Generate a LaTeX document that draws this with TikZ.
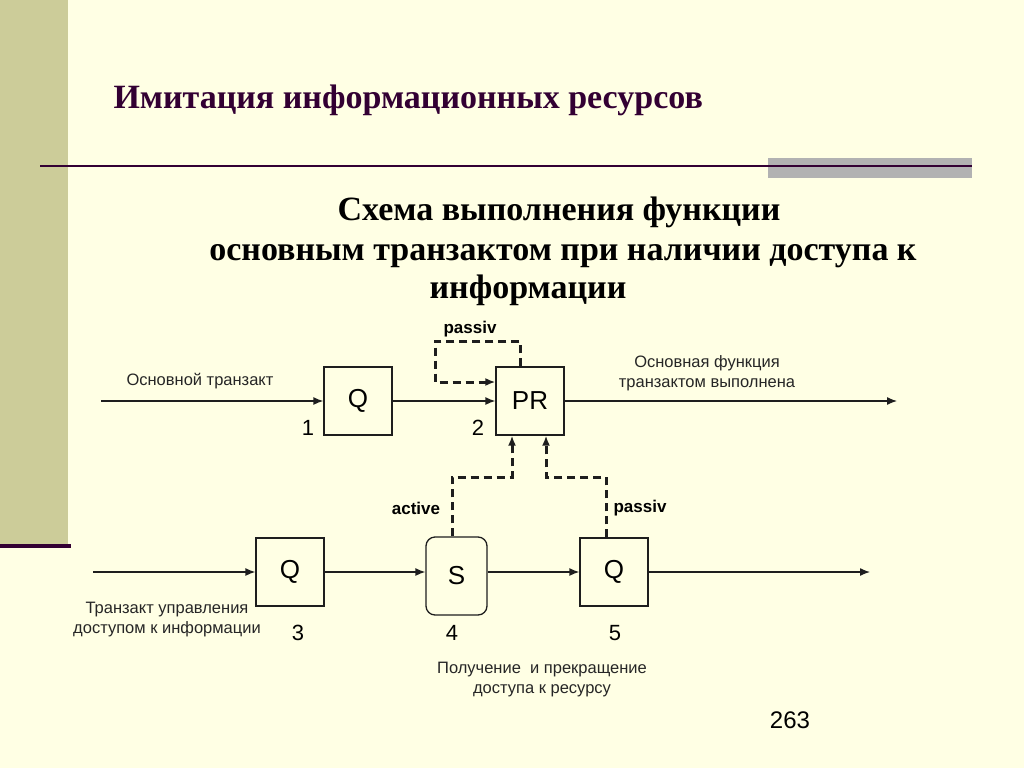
\documentclass[tikz,border=0pt]{standalone}
\usepackage{fontspec}
\setmainfont{Liberation Sans}
\newfontfamily\headfont{Liberation Serif}
\usepackage{xcolor}
\definecolor{slidebg}{RGB}{255,255,228}
\definecolor{olivebar}{RGB}{204,204,153}
\definecolor{darkplum}{RGB}{51,0,51}
\definecolor{greybar}{RGB}{178,178,178}
\definecolor{wire}{RGB}{30,30,30}
\usetikzlibrary{arrows.meta}
\usetikzlibrary{positioning}
\newcommand{\sizeblock}{68pt}
\tikzset{
    common/.style={draw=wire, line width=1.3pt, inner sep=0pt, font=\fontsize{26}{26}\selectfont},
    block/.style={common, rectangle, minimum width=\sizeblock, minimum height=\sizeblock},
    srvblock/.style={common, rectangle, rounded corners=9pt, minimum width=61pt, minimum height=78pt},
    flow/.style={-{Latex[length=10pt,width=8pt]}, draw=wire, line width=1.3pt},
    ctrl/.style={flow, dash pattern=on 8pt off 5pt, line width=3pt},
    caption/.style={font=\fontsize{16.5}{20}\selectfont, align=center, text=black!85},
    tag/.style={font=\bfseries\fontsize{17}{17}\selectfont},
    num/.style={font=\fontsize{22}{22}\selectfont},
    heading/.style={anchor=base, font=\headfont\bfseries\fontsize{34}{34}\selectfont}
}

\begin{document}
\begin{tikzpicture}[x=1pt, y=-1pt]
    % slide frame
    \fill[slidebg] (0,0) rectangle (1024,768);
    \useasboundingbox (0,0) rectangle (1024,768);
    \fill[olivebar] (0,0) rectangle (68,545);
    \fill[darkplum] (0,544) rectangle (71,548);
    \fill[greybar] (768,158) rectangle (972,178);
    \draw[darkplum, line width=2.6pt] (40,166) -- (972,166);

    \node[anchor=base west, text=darkplum, font=\headfont\bfseries\fontsize{34}{34}\selectfont] (title) at (110,108)
        {Имитация информационных ресурсов};
    \node[heading] (sub1) at (559,220) {Схема выполнения функции};
    \node[heading] (sub2) at (563,260) {основным транзактом при наличии доступа к};
    \node[heading] (sub3) at (528,298) {информации};

    % blocks
    \node[block] (Q1) at (358,401) {Q};
    \node[block] (PR) at (530,401) {PR};
    \node[block] (Q3) at (290,572) {Q};
    \node[srvblock] (S) at (456.5,576) {S};
    \node[block] (Q5) at (614,572) {Q};

    \coordinate (in1) at (101,401);
    \coordinate (out1) at (897,401);
    \coordinate (in2) at (93,572);
    \coordinate (out2) at (870,572);
    \coordinate (loop) at (435,341);
    \coordinate (jS) at (512,477);
    \coordinate (jQ) at (546,477);

    \draw[flow] (in1) -- (Q1);
    \draw[flow] (Q1) -- (PR);
    \draw[flow] (PR) -- (out1);
    \draw[flow] (in2) -- (Q3);
    \draw[flow] (Q3.east) -- (Q3.east -| S.west);
    \draw[flow] (S.east |- Q5.west) -- (Q5.west);
    \draw[flow] (Q5) -- (out2);

    \draw[ctrl] ([xshift=-10pt]PR.north) |- (loop) |- ([yshift=19pt]PR.west);
    \draw[ctrl] ([xshift=-4.5pt]S.north) |- (jS) -- ([xshift=-18pt]PR.south);
    \draw[ctrl] ([xshift=-8pt]Q5.north) |- (jQ) -- ([xshift=16pt]PR.south);

    % labels
    \node[caption] (lin1) at (200,381) {Основной транзакт};
    \node[caption] (lout1) at (707,373) {Основная функция\\ транзактом выполнена};
    \node[caption] (lin2) at (167,620) {Транзакт управления\\доступом к информации};
    \node[caption] (lacc) at (542,680) {Получение \ и прекращение\\доступа к ресурсу};
    \node[tag] (tloop) at (470,329) {passiv};
    \node[tag] (tact) at (416,508) {active};
    \node[tag] (tpas) at (640,508) {passiv};
    \node[num] (n1) at (308,428) {1};
    \node[num] (n2) at (478,428) {2};
    \node[num] (n3) at (298,633) {3};
    \node[num] (n4) at (452,633) {4};
    \node[num] (n5) at (615,633) {5};
    \node[num, font=\fontsize{24}{24}\selectfont] (page) at (790,720) {263};
\end{tikzpicture}
\end{document}
